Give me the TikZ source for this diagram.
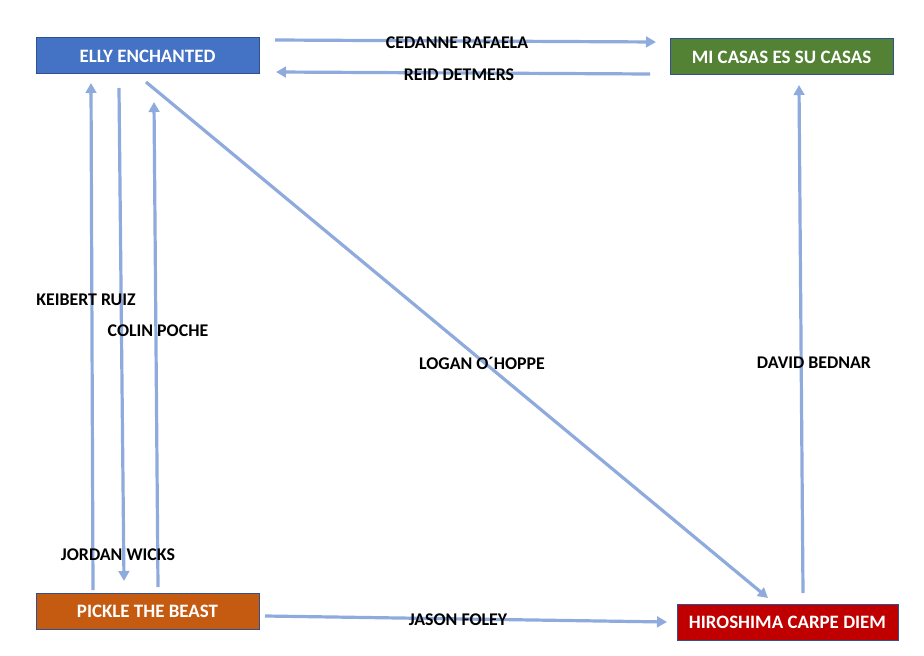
\documentclass[tikz,border=0pt]{standalone}
\usepackage{fontspec}
\setmainfont{Carlito}
\usetikzlibrary{arrows.meta}
\definecolor{arrowc}{HTML}{8FAADC}
\definecolor{edgec}{HTML}{2F528F}
\definecolor{bluef}{HTML}{4472C4}
\definecolor{greenf}{HTML}{548235}
\definecolor{orangef}{HTML}{C55A11}
\definecolor{redf}{HTML}{C00000}
\tikzset{
  boxn/.style={draw=edgec, line width=0.75pt, text=white, inner sep=0pt,
    font=\fontsize{14.2}{16}\selectfont\bfseries},
  lab/.style={font=\fontsize{13.4}{15}\selectfont\bfseries, text=black, inner sep=0pt},
  conn/.style={draw=arrowc, line width=2.4pt, -{Triangle[length=7.5pt,width=8pt]}}
}
\begin{document}
\begin{tikzpicture}[x=0.75pt,y=-0.75pt]
\useasboundingbox (0,0) rectangle (924,656);
% boxes
\node[boxn, fill=bluef, minimum width=167.25pt, minimum height=27pt] (elly) at (147.5,56) {ELLY ENCHANTED};
\node[boxn, fill=greenf, minimum width=167.25pt, minimum height=27pt] (casas) at (781.5,57) {MI CASAS ES SU CASAS};
\node[boxn, fill=orangef, minimum width=167.25pt, minimum height=27pt] (pickle) at (147.5,611) {PICKLE THE BEAST};
\node[boxn, fill=redf, minimum width=165.75pt, minimum height=27pt] (hiro) at (787.5,622) {HIROSHIMA CARPE DIEM};
% endpoints
\coordinate (c1s) at (275,40); \coordinate (c1e) at (656,42);
\coordinate (c2s) at (650,74); \coordinate (c2e) at (276,72);
\coordinate (c3s) at (93,590); \coordinate (c3e) at (91,83);
\coordinate (c4s) at (119,88); \coordinate (c4e) at (124,581);
\coordinate (c5s) at (158,587); \coordinate (c5e) at (154,102);
\coordinate (c6s) at (146,82); \coordinate (c6e) at (768,598);
\coordinate (c7s) at (803,593); \coordinate (c7e) at (799,85);
\coordinate (c8s) at (265,616); \coordinate (c8e) at (667,622);
% connectors
\draw[conn] (c1s) -- (c1e);
\draw[conn] (c2s) -- (c2e);
\draw[conn] (c3s) -- (c3e);
\draw[conn] (c4s) -- (c4e);
\draw[conn] (c5s) -- (c5e);
\draw[conn] (c6s) -- (c6e);
\draw[conn] (c7s) -- (c7e);
\draw[conn] (c8s) -- (c8e);
% labels
\node[lab] (l1) at (457,43) {CEDANNE RAFAELA};
\node[lab] (l2) at (459,75) {REID DETMERS};
\node[lab] (l3) at (86,300) {KEIBERT RUIZ};
\node[lab] (l4) at (158,331) {COLIN POCHE};
\node[lab] (l5) at (482,363) {LOGAN O´HOPPE};
\node[lab] (l6) at (814,363) {DAVID BEDNAR};
\node[lab] (l7) at (118,555) {JORDAN WICKS};
\node[lab] (l8) at (458,620) {JASON FOLEY};
\end{tikzpicture}
\end{document}
